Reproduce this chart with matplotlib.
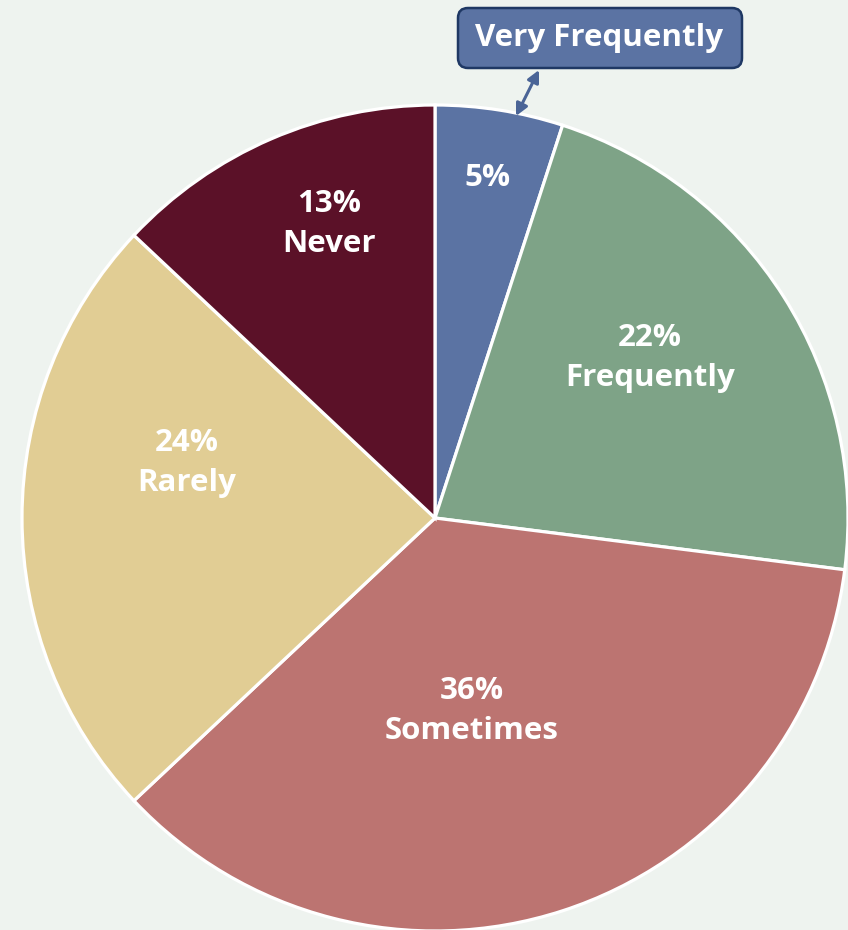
import matplotlib.pyplot as plt
from matplotlib.patches import FancyBboxPatch

categories = ["Very Frequently", "Frequently", "Sometimes", "Rarely", "Never"]
shares = [5, 22, 36, 24, 13]
colors = ["#5B73A3", "#7EA387", "#BC7471", "#E1CD94", "#5B1128"]

# where each slice label sits, in pixels from the top-left corner
label_xy = [(487, 178), (650, 358), (472, 711), (187, 463), (329, 224)]

BG = "#EEF3EF"
W, H = 848, 930

plt.rcParams["font.family"] = ["Open Sans", "DejaVu Sans"]

fig = plt.figure(figsize=(W / 100, H / 100), dpi=100, facecolor=BG)
ax = fig.add_axes([0, 0, 1, 1])
ax.set_facecolor(BG)

cx, cy, r = 435, H - 518, 413
ax.pie(shares, colors=colors, startangle=90, counterclock=False,
       center=(cx, cy), radius=r, frame=True,
       wedgeprops=dict(edgecolor="white", linewidth=2.3))
ax.set_xlim(0, W)
ax.set_ylim(0, H)
ax.set_aspect("equal")
ax.axis("off")

for name, val, (x, y) in zip(categories, shares, label_xy):
    txt = f"{val}%" if name == "Very Frequently" else f"{val}%\n{name}"
    ax.text(x, H - y, txt, ha="center", va="center", color="white",
            fontsize=22.5, fontweight="bold", linespacing=1.42)

# callout box for the small slice
box = FancyBboxPatch((458, H - 68), 284, 60, boxstyle="round,pad=0,rounding_size=10",
                     facecolor="#5B73A3", edgecolor="#1F3864", linewidth=1.8)
ax.add_patch(box)
ax.text(599, H - 38, categories[0], ha="center", va="center", color="white",
        fontsize=22.5, fontweight="bold")
ax.annotate("", xy=(516, H - 116), xytext=(539, H - 70),
            arrowprops=dict(arrowstyle="<|-|>", color="#4A6496", lw=2.2,
                            mutation_scale=18, shrinkA=0, shrinkB=0))

fig.savefig("out.png", dpi=100, facecolor=BG)
